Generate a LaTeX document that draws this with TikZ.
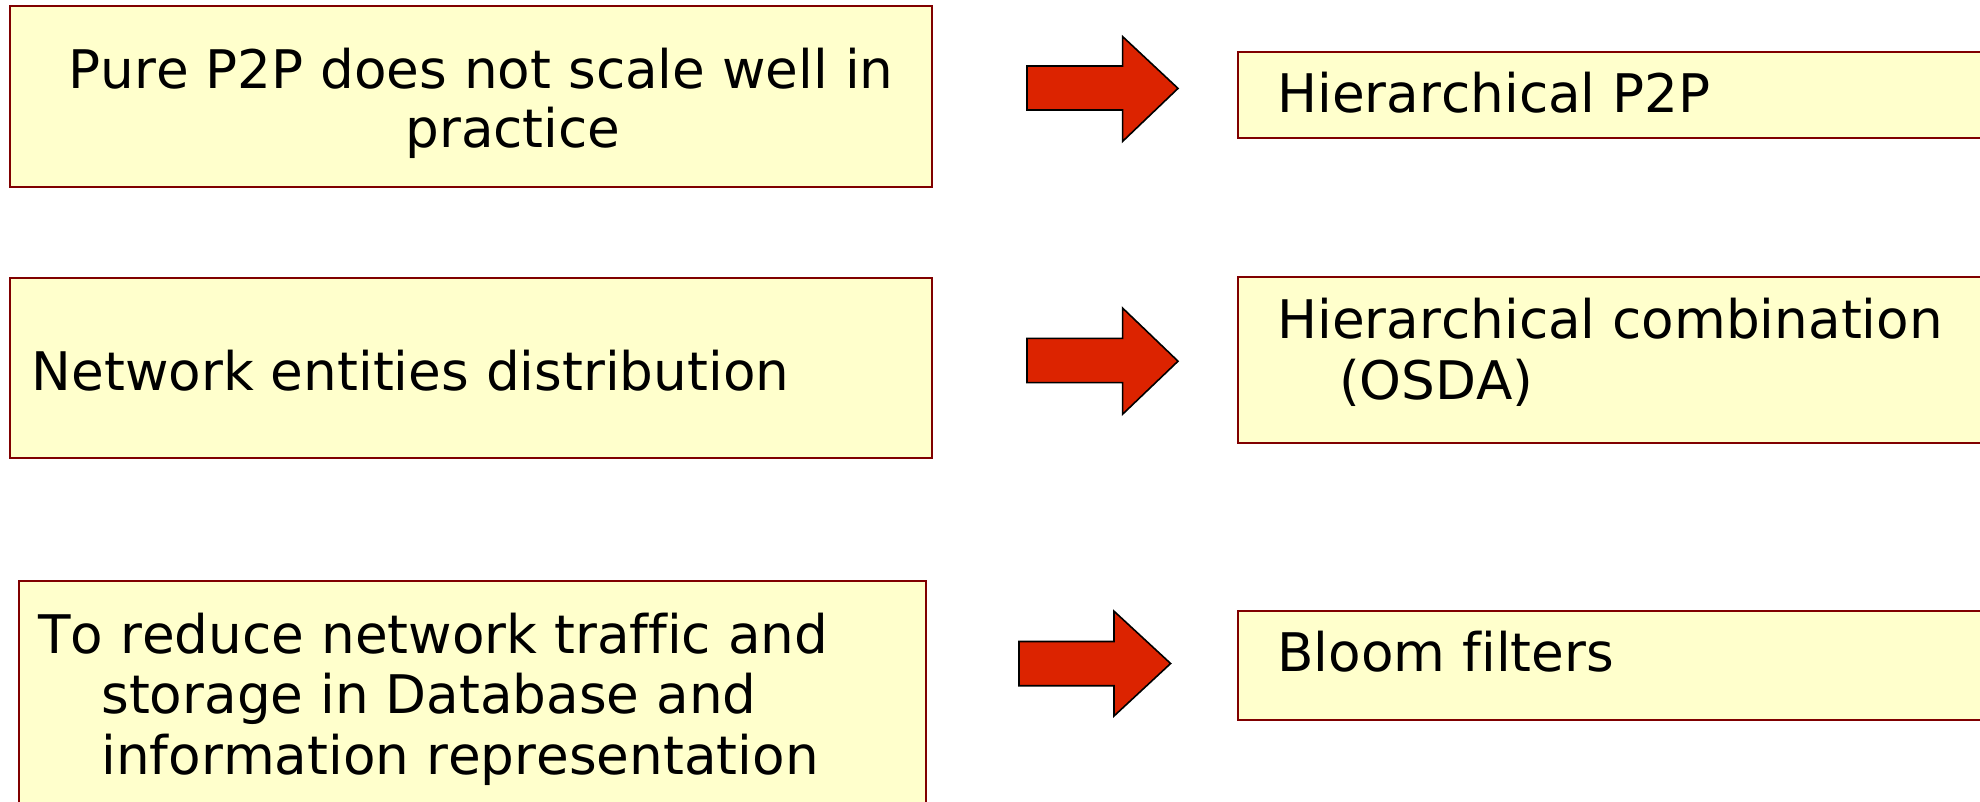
\documentclass[tikz,border=0pt]{standalone}
\usepackage{fontspec}
\setmainfont[Ligatures=NoCommon,Kerning=Off]{DejaVu Sans}
\definecolor{boxfill}{HTML}{FFFFCC}
\definecolor{boxline}{HTML}{800000}
\definecolor{arrowfill}{HTML}{DC2300}
\begin{document}
\begin{tikzpicture}[x=0.5pt,y=-0.5pt,
  box/.style={draw=boxline,fill=boxfill,line width=0.8pt},
  blockarrow/.style={draw=black,fill=arrowfill,line width=0.8pt,line join=miter},
  lbl/.style={anchor=base west,inner sep=0pt,font=\fontsize{26.6pt}{30.3pt}\selectfont,text=black}]
\clip (0,0) rectangle (1980,802);
\fill[white] (0,0) rectangle (1980,802);
% left boxes
\draw[box] (10,6) rectangle (932,187);
\draw[box] (10,278) rectangle (932,458);
\draw[box] (19,581) rectangle (926,830);
% right boxes
\draw[box] (1238,52) rectangle (2000,138);
\draw[box] (1238,277) rectangle (2000,443);
\draw[box] (1238,611) rectangle (2000,720);
% block arrows
\draw[blockarrow] (1027,66) -- (1122.6,66) -- (1122.6,36.6) -- (1178,88.4) -- (1122.6,141.4) -- (1122.6,110) -- (1027,110) -- cycle;
\draw[blockarrow] (1027,338.4) -- (1122.6,338.4) -- (1122.6,308.1) -- (1178,361.2) -- (1122.6,414.2) -- (1122.6,382.6) -- (1027,382.6) -- cycle;
\draw[blockarrow] (1019,641.5) -- (1114,641.5) -- (1114,611.2) -- (1170.6,663.5) -- (1114,716) -- (1114,685.7) -- (1019,685.7) -- cycle;
% texts
\node[lbl] (t1a) at (68,88.4) {Pure P2P does not scale well in};
\node[lbl] (t1b) at (405,148) {practice};
\node[lbl] (t2) at (31.6,390) {Network entities distribution};
\node[lbl] (t3a) at (38,653) {To reduce network traffic and};
\node[lbl] (t3b) at (101,713.5) {storage in Database and};
\node[lbl] (t3c) at (101,774) {information representation};
\node[lbl] (r1) at (1277,112.4) {Hierarchical P2P};
\node[lbl] (r2a) at (1277,338.4) {Hierarchical combination};
\node[lbl] (r2b) at (1338.6,399) {(OSDA)};
\node[lbl] (r3) at (1277,671.8) {Bloom filters};
\end{tikzpicture}
\end{document}
